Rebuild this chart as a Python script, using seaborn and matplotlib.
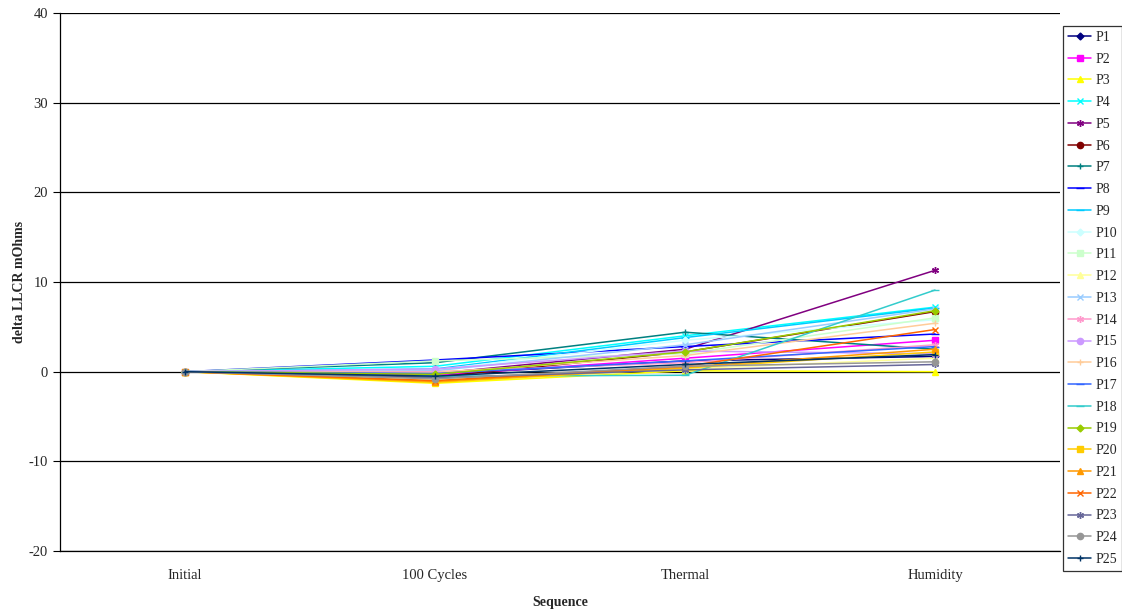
import pandas as pd
import matplotlib.pyplot as plt
import seaborn as sns

sequence = ["Initial", "100 Cycles", "Thermal", "Humidity"]
parts = ["P%d" % i for i in range(1, 26)]

# delta LLCR (mOhms) per part at each step
p1 = [0, -0.3, 1.2, 1.7]
p2 = [0, -0.4, 1.5, 3.5]
p3 = [0, -1.3, 0.1, 0.0]
p4 = [0, 0.6, 4.0, 7.2]
p5 = [0, -0.2, 2.5, 11.3]
p6 = [0, -0.6, 2.2, 6.7]
p7 = [0, 1.0, 4.4, 2.5]
p8 = [0, 1.3, 2.8, 4.2]
p9 = [0, 0.3, 3.8, 7.1]
p10 = [0, 0.2, 3.5, 5.8]
p11 = [0, 1.2, 2.0, 6.0]
p12 = [0, -0.9, 0.3, 1.5]
p13 = [0, 0.1, 3.0, 7.0]
p14 = [0, 0.0, 1.0, 3.0]
p15 = [0, 0.3, 2.3, 2.0]
p16 = [0, -0.1, 1.8, 5.4]
p17 = [0, -0.2, 1.2, 2.8]
p18 = [0, -0.5, -0.4, 9.1]
p19 = [0, -0.3, 2.2, 6.8]
p20 = [0, -1.2, 0.4, 2.2]
p21 = [0, -1.1, 0.5, 2.5]
p22 = [0, -1.0, 0.6, 4.7]
p23 = [0, -0.7, 0.2, 0.8]
p24 = [0, -0.8, 0.6, 1.1]
p25 = [0, -0.5, 0.8, 1.9]
values = [p1, p2, p3, p4, p5, p6, p7, p8, p9, p10, p11, p12, p13,
          p14, p15, p16, p17, p18, p19, p20, p21, p22, p23, p24, p25]

colors = ["#000080", "#FF00FF", "#FFFF00", "#00FFFF", "#800080", "#800000",
          "#008080", "#0000FF", "#00CCFF", "#CCFFFF", "#CCFFCC", "#FFFF99",
          "#99CCFF", "#FF99CC", "#CC99FF", "#FFCC99", "#3366FF", "#33CCCC",
          "#99CC00", "#FFCC00", "#FF9900", "#FF6600", "#666699", "#969696",
          "#003366"]
star = (6, 2, 0)
markers = ["D", "s", "^", "x", star, "o", "+", "_",
           "_", "D", "s", "^", "x", star, "o", "+", "_",
           "_", "D", "s", "^", "x", star, "o", "+"]

rows = []
for p, vals in zip(parts, values):
    for i, v in enumerate(vals):
        rows.append({"part": p, "step": i, "delta": v})
df = pd.DataFrame(rows)

sns.set_style("white")
plt.rcParams["font.family"] = ["Liberation Serif", "DejaVu Serif"]
plt.rcParams["axes.unicode_minus"] = False

fig = plt.figure(figsize=(11.22, 6.12), dpi=100)
ax = fig.add_axes([60 / 1122, 1 - 551 / 612, 1000 / 1122, 538 / 612])

sizes = {"D": 3.5, "s": 4, "^": 4.5, "o": 4.5, "_": 6}
for p, c, m in zip(parts, colors, markers):
    sub = df[df["part"] == p]
    ms = sizes.get(m, 5) if isinstance(m, str) else 5
    sns.lineplot(data=sub, x="step", y="delta", color=c, marker=m,
                 markersize=ms, markeredgecolor=c, markeredgewidth=1,
                 linewidth=1.1, label=p, ax=ax)

ax.set_ylim(-20, 40)
ax.set_yticks(range(-20, 41, 10))
ax.set_xlim(-0.5, 3.5)
ax.set_xticks(range(4))
ax.set_xticklabels(sequence)
ax.set_xticks([-0.5, 0.5, 1.5, 2.5, 3.5], minor=True)
ax.tick_params(axis="x", which="major", length=0, pad=13, labelsize=10.5)
ax.tick_params(axis="x", which="minor", length=5, width=0.8, direction="out", color="black")
ax.tick_params(axis="y", length=5, width=0.8, direction="out", color="black", labelsize=10.5, left=True)
ax.yaxis.grid(True, color="black", linewidth=0.9)
ax.set_axisbelow(True)
for s in ["top", "right"]:
    ax.spines[s].set_visible(False)
for s in ["left", "bottom"]:
    ax.spines[s].set_color("black")
    ax.spines[s].set_linewidth(0.9)

ax.set_xlabel("Sequence", fontsize=10, fontweight="bold", labelpad=10)
ax.set_ylabel("delta LLCR mOhms", fontsize=10, fontweight="bold", labelpad=2)

leg = ax.legend(loc="upper left", bbox_to_anchor=(1063 / 1122, 1 - 26 / 612),
                bbox_transform=fig.transFigure, frameon=True, fancybox=False,
                fontsize=10, handlelength=1.7, handletextpad=0.3,
                labelspacing=0.63, borderpad=0.35, borderaxespad=0,
                markerscale=1.0)
leg.get_frame().set_edgecolor("black")
leg.get_frame().set_linewidth(0.9)

plt.savefig("out.png", dpi=100)
plt.close()
